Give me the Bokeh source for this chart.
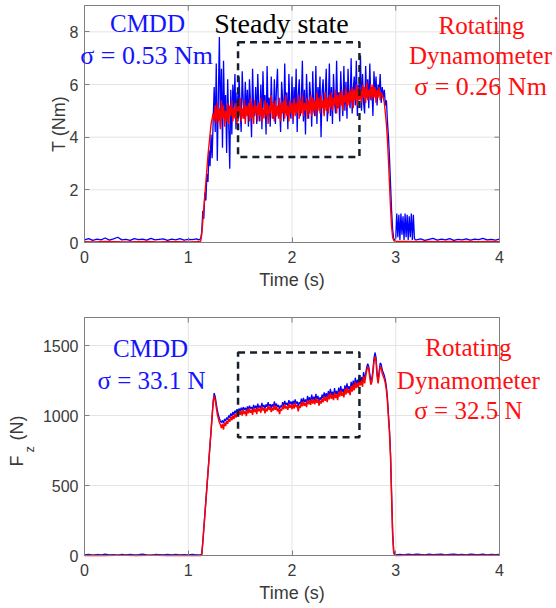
import numpy as np
from bokeh.plotting import figure
from bokeh.layouts import column
from bokeh.models import Label, FixedTicker, Range1d
from bokeh.embed import file_html
from bokeh.resources import INLINE

# ---------------- data ----------------
X_TICKS = [0, 1, 2, 3, 4]
T_TICKS = [0, 2, 4, 6, 8]
F_TICKS = [0, 500, 1000, 1500]
X_LIM = [0, 4]
T_LIM = [0, 9]
F_LIM = [0, 1700]

STEADY_T = [1.48, 2.65]          # time window of the steady state box
STEADY_TORQUE = [3.25, 7.6]      # box extent in torque plot
STEADY_FZ = [845, 1450]          # box extent in force plot

# Torque, CMDD (blue)
T_CMDD_PRE = [0.1, 0.15, 0.08, 0.13, 0.1, 0.17, 0.09, 0.14, 0.2, 0.1, 0.12, 0.08, 0.15, 0.11,
              0.13, 0.09, 0.16, 0.1, 0.12, 0.14, 0.08, 0.13, 0.1, 0.15, 0.09, 0.12, 0.11, 0.14]
T_CMDD_RUN = [0.1, 0.12, 0.15, 0.4, 1.2, 0.9, 1.9, 1.6, 2.6, 2.3,
              3.5, 2.9, 4.1, 3.2, 4.6, 5.9, 4.2, 6.8, 3.1, 5.5,
              7.8, 4.4, 6.6, 3.6, 6.9, 4.8, 5.6, 3.4, 6.2, 4.5,
              2.8, 5.8, 4.1, 6.0, 5.0, 6.4, 4.3, 5.7, 4.6, 6.3,
              5.1, 4.2, 6.5, 5.4, 4.7, 6.1, 4.9, 5.8, 4.4, 6.2,
              5.3, 4.0, 6.6, 5.0, 4.8, 5.9, 4.5, 6.4, 5.2, 4.6,
              6.0, 4.3, 6.5, 5.1, 5.6, 4.1, 6.7, 4.9, 5.5, 4.4,
              6.3, 5.0, 4.7, 6.2, 4.5, 5.8, 6.6, 4.8, 5.3, 4.2,
              6.1, 5.4, 4.6, 6.8, 4.9, 5.7, 4.3, 6.4, 5.1, 4.7,
              6.3, 4.5, 5.9, 5.0, 6.6, 4.2, 5.6, 6.2, 4.8, 5.4,
              6.9, 4.6, 5.8, 4.1, 6.4, 5.2, 4.7, 6.1, 5.5, 4.4,
              6.5, 5.0, 4.8, 6.7, 4.5, 5.9, 5.3, 6.3, 4.0, 5.7,
              6.2, 4.9, 5.6, 6.6, 4.6, 5.2, 6.8, 4.8, 5.9, 4.5,
              6.4, 5.3, 4.9, 6.9, 5.1, 5.7, 4.6, 6.5, 5.4, 4.8,
              6.7, 5.0, 6.1, 4.7, 6.6, 5.5, 5.1, 7.0, 4.9, 5.8,
              6.3, 5.2, 6.9, 4.8, 6.0, 5.6, 7.1, 5.0, 6.4, 5.3,
              4.9, 6.7, 5.5, 6.2, 5.1, 6.8, 5.4, 5.9, 4.8, 6.5,
              5.6, 6.3, 5.2, 6.0, 5.7, 6.4, 5.3, 5.9, 5.5, 5.8,
              5.2, 5.4, 4.6, 4.0, 3.2, 2.2, 1.2, 0.5, 0.15, 0.1,
              0.15]
T_CMDD_TAIL = [1.1, 0.2, 1.05, 0.1, 1.1, 0.3, 1.0, 0.1, 1.1, 0.2, 1.05, 0.1, 1.0, 0.2, 1.1, 0.1, 1.05, 0.15, 0.1]
T_CMDD_POST = [0.1, 0.14, 0.08, 0.12, 0.16, 0.09, 0.13, 0.1, 0.15, 0.08, 0.12, 0.1, 0.14, 0.09,
               0.13, 0.11, 0.16, 0.1, 0.12, 0.09, 0.13]

# Torque, rotating dynamometer (red)
T_ROT_PRE = [0.03, 0.02, 0.04, 0.03, 0.02, 0.03, 0.04, 0.02, 0.03, 0.03, 0.02]
T_ROT_RUN = [0.03, 0.03, 0.05, 0.3, 0.8, 1.3, 1.8, 2.3, 2.8, 3.3, 3.7, 4.1, 4.5, 4.7, 4.9, 4.6, 5.2,
             4.5, 5.3, 4.6, 5.1, 4.3, 5.4, 4.7, 5.2, 4.4, 5.0,
             4.6, 5.3, 4.5, 5.2, 4.8, 5.4, 4.6, 5.1, 4.7, 5.3,
             4.5, 5.2, 4.8, 5.5, 4.6, 5.1, 4.7, 5.4, 4.5, 5.2,
             4.8, 5.3, 4.6, 5.5, 4.7, 5.2, 4.5, 5.4, 4.9, 5.2,
             4.6, 5.3, 4.8, 5.5, 4.6, 5.1, 4.7, 5.4, 4.8, 5.3,
             4.5, 5.2, 4.9, 5.6, 4.7, 5.3, 4.6, 5.4, 4.8, 5.2,
             4.7, 5.5, 4.6, 5.3, 4.9, 5.4, 4.7, 5.6, 4.8, 5.2,
             4.6, 5.4, 4.9, 5.3, 4.7, 5.5, 4.8, 5.3, 4.9, 5.6,
             4.7, 5.4, 4.9, 5.6, 4.8, 5.3, 5.0, 5.5, 4.7, 5.4,
             4.9, 5.6, 4.8, 5.5, 5.0, 5.4, 4.8, 5.7, 5.0, 5.5,
             4.9, 5.6, 5.1, 5.4, 4.8, 5.7, 5.0, 5.5, 4.9, 5.6,
             5.1, 5.7, 5.0, 5.5, 5.2, 5.8, 4.9, 5.6, 5.1, 5.7,
             5.2, 5.8, 5.0, 5.6, 5.3, 5.9, 5.1, 5.7, 5.2, 5.8,
             5.3, 5.9, 5.1, 5.8, 5.4, 6.0, 5.2, 5.9, 5.4, 5.8,
             5.3, 6.0, 5.5, 5.9, 5.3, 6.1, 5.4, 5.8, 5.5, 6.0,
             5.4, 6.0, 5.5, 5.9, 5.3, 5.8, 5.5, 5.9, 5.4, 5.7,
             5.6, 5.5,
             5.3, 4.9, 4.5, 3.9, 3.1, 2.2, 1.3, 0.6, 0.2, 0.08, 0.05, 0.04]
T_ROT_POST = [0.04, 0.03, 0.04, 0.03, 0.04, 0.03, 0.04, 0.03, 0.04, 0.03]

# Fz, CMDD (blue)
F_CMDD_PRE = [5, 8, 3, 7, 4, 9, 5, 6, 3, 8, 5, 7, 4, 6, 9, 5, 3, 7, 6, 4, 8, 5, 7, 4, 6, 5, 8, 4]
F_CMDD_RUN = [5, 3, 6, 8, 92, 192, 292, 392, 492, 592, 692, 792, 892, 995, 1100, 1160, 1135, 1085, 1040, 1005,
              980, 960, 950, 965, 945, 975, 960, 985, 970, 1000, 985, 1015, 995, 1025, 1005, 1035, 1015, 1045,
              1025, 1050, 1030,
              1055, 1035, 1060, 1040, 1055, 1030, 1065, 1045, 1070, 1050,
              1060, 1040, 1075, 1050, 1070, 1045, 1085, 1055, 1070, 1050,
              1090, 1060, 1075, 1050, 1080, 1060, 1095, 1065, 1080, 1055,
              1080, 1060, 1100, 1065, 1085, 1060, 1075, 1045, 1070, 1060,
              1095, 1070, 1105, 1075, 1090, 1070, 1110, 1080, 1100, 1075,
              1105, 1080, 1115, 1085, 1100, 1065, 1095, 1080, 1120, 1090,
              1125, 1095, 1115, 1090, 1140, 1105, 1130, 1100, 1150, 1110,
              1135, 1105, 1155, 1115, 1140, 1100, 1130, 1110, 1150, 1120,
              1165, 1130, 1160, 1125, 1175, 1140, 1190, 1145, 1170, 1135,
              1195, 1150, 1175, 1140, 1200, 1160, 1210, 1165, 1190, 1160,
              1215, 1175, 1230, 1185, 1210, 1175, 1240, 1195, 1250, 1205,
              1270, 1220, 1255, 1230, 1290, 1240, 1275, 1235, 1310, 1260,
              1300, 1345, 1370, 1350, 1295, 1250, 1265, 1325, 1410, 1450,
              1415, 1305, 1255, 1315, 1375, 1365, 1325, 1305, 1285, 1255,
              1205, 1125, 1005, 895, 720, 440, 170, 35, 8, 5]
F_CMDD_POST = [8, 5, 9, 6, 10, 7, 5, 9, 6, 8, 10, 5, 7, 9, 6, 8, 5, 10, 7, 6, 9, 5, 8, 6, 7]

# Fz, rotating dynamometer (red)
F_ROT_PRE = [0, 1, 0, 2, 1, 0, 1, 2, 0, 1, 0]
F_ROT_RUN = [0, 0, 0, 5, 90, 190, 290, 390, 490, 590, 690, 790, 890, 990, 1090, 1140, 1110, 1060, 1010, 980,
             950, 935, 910, 940, 900, 950, 925, 960, 940, 975, 955, 990, 965, 1000, 975, 1010, 985, 1020,
             995, 1030, 1005,
             1035, 1000, 1040, 1010, 1030, 995, 1045, 1015, 1050, 1020,
             1040, 1005, 1055, 1025, 1045, 1010, 1060, 1030, 1050, 1020,
             1065, 1035, 1055, 1015, 1050, 1030, 1070, 1040, 1060, 1025,
             1055, 1035, 1075, 1040, 1065, 1030, 1050, 1010, 1045, 1035,
             1070, 1045, 1080, 1050, 1065, 1040, 1085, 1055, 1075, 1045,
             1080, 1050, 1090, 1060, 1075, 1030, 1070, 1055, 1095, 1065,
             1100, 1070, 1090, 1060, 1110, 1080, 1105, 1075, 1120, 1085,
             1110, 1080, 1125, 1090, 1115, 1070, 1105, 1085, 1120, 1095,
             1140, 1105, 1130, 1095, 1150, 1115, 1160, 1120, 1145, 1110,
             1165, 1125, 1150, 1110, 1170, 1135, 1180, 1140, 1165, 1130,
             1190, 1150, 1200, 1160, 1185, 1145, 1210, 1170, 1220, 1180,
             1240, 1195, 1230, 1200, 1260, 1215, 1250, 1205, 1280, 1230,
             1280, 1320, 1350, 1330, 1270, 1220, 1240, 1300, 1380, 1420,
             1390, 1280, 1230, 1290, 1350, 1340, 1300, 1280, 1260, 1230,
             1180, 1100, 980, 870, 700, 420, 150, 20, 3, 0]
F_ROT_POST = [2, 1, 2, 1, 2, 1, 2, 1, 2, 1]

BLUE = "#0000ff"
RED = "#ff0000"
TXT_BLUE = "#1414ff"
TXT_RED = "#ff1010"
GRAY = "#808080"
GRID = "#e4e4e4"
TICK_TXT = "#3a3a3a"

W = 556
PX_LEFT, PX_RIGHT = 84, 499     # pixel columns of t=0 and t=4


def series(*segments):
    ts, vs = [], []
    for t0, dt, vals in segments:
        ts.append(t0 + dt * np.arange(len(vals)))
        vs.append(np.asarray(vals, dtype=float))
    return np.concatenate(ts), np.concatenate(vs)


tq_c = series((0.0, 0.04, T_CMDD_PRE), (1.10, 0.01, T_CMDD_RUN), (3.01, 0.01, T_CMDD_TAIL), (3.20, 0.04, T_CMDD_POST))
tq_r = series((0.0, 0.1, T_ROT_PRE), (1.10, 0.01, T_ROT_RUN), (3.10, 0.1, T_ROT_POST))
fz_c = series((0.0, 0.04, F_CMDD_PRE), (1.10, 0.01, F_CMDD_RUN), (3.04, 0.04, F_CMDD_POST))
fz_r = series((0.0, 0.1, F_ROT_PRE), (1.10, 0.01, F_ROT_RUN), (3.10, 0.1, F_ROT_POST))


def make_fig(height, px_top, px_bottom, ylim, yticks, ylabel):
    """Frame covers the whole canvas so texts beyond the axes box are not clipped;
    the axes are pinned at t=0 / y=0 with their own ticks and labels."""
    sx = (PX_RIGHT - PX_LEFT) / (X_LIM[1] - X_LIM[0])
    sy = (px_bottom - px_top) / (ylim[1] - ylim[0])
    xr = Range1d(X_LIM[0] - PX_LEFT / sx, X_LIM[1] + (W - PX_RIGHT) / sx)
    yr = Range1d(ylim[0] - (height - px_bottom) / sy, ylim[1] + px_top / sy)
    p = figure(width=W, height=height, output_backend="svg", toolbar_location=None,
               x_range=xr, y_range=yr, min_border=0,
               min_border_left=0, min_border_right=0, min_border_top=0, min_border_bottom=0)
    p.outline_line_color = None
    p.grid.visible = False
    p.xaxis.fixed_location = ylim[0]
    p.yaxis.fixed_location = X_LIM[0]
    p.xaxis.bounds = tuple(X_LIM)
    p.yaxis.bounds = tuple(ylim)
    p.xaxis.ticker = FixedTicker(ticks=X_TICKS)
    p.yaxis.ticker = FixedTicker(ticks=yticks)
    for ax in p.axis:
        ax.axis_line_color = GRAY
        ax.major_tick_line_color = GRAY
        ax.major_tick_in = 5
        ax.major_tick_out = 0
        ax.minor_tick_line_color = None
        ax.major_label_text_font = "Liberation Sans"
        ax.major_label_text_font_size = "16px"
        ax.major_label_text_color = TICK_TXT
        ax.axis_label_text_font = "Liberation Sans"
        ax.axis_label_text_font_size = "18px"
        ax.axis_label_text_font_style = "normal"
        ax.axis_label_text_color = TICK_TXT
    p.xaxis.axis_label = "Time (s)"
    p.xaxis.major_label_standoff = 8
    p.xaxis.axis_label_standoff = 4
    p.yaxis.major_label_standoff = 6
    p.yaxis.axis_label_standoff = -2
    if ylabel:
        p.yaxis.axis_label = ylabel
    # grid lines inside the axes box
    p.segment(x0=X_TICKS, x1=X_TICKS, y0=ylim[0], y1=ylim[1], line_color=GRID, line_width=1)
    p.segment(x0=X_LIM[0], x1=X_LIM[1], y0=yticks, y1=yticks, line_color=GRID, line_width=1)
    return p, sx, sy


def finish(p, sx, sy, ylim, yticks):
    # box and mirrored ticks on top / right
    p.quad(left=X_LIM[0], right=X_LIM[1], bottom=ylim[0], top=ylim[1],
           fill_color=None, line_color=GRAY, line_width=1)
    p.segment(x0=X_LIM[1], x1=X_LIM[1] - 5 / sx, y0=yticks, y1=yticks, line_color=GRAY)
    p.segment(x0=X_TICKS, x1=X_TICKS, y0=ylim[1], y1=ylim[1] - 5 / sy, line_color=GRAY)


def txt(p, x, y, s, color, size="25px"):
    p.add_layout(Label(x=x, y=y, text=s, text_font="Liberation Serif", text_font_size=size,
                       text_color=color, text_align="center", text_baseline="middle"))


# ---------------- Torque ----------------
p1, sx1, sy1 = make_fig(296, 5, 242, T_LIM, T_TICKS, "T (Nm)")
p1.line(tq_c[0], tq_c[1], line_color=BLUE, line_width=1.3)
p1.line(tq_r[0], tq_r[1], line_color=RED, line_width=1.4)
p1.quad(left=STEADY_T[0], right=STEADY_T[1], bottom=STEADY_TORQUE[0], top=STEADY_TORQUE[1],
        fill_color=None, line_color="#17202a", line_width=2.5, line_dash="7 5")
finish(p1, sx1, sy1, T_LIM, T_TICKS)
txt(p1, 0.607, 8.32, "CMDD", TXT_BLUE)
txt(p1, 0.598, 7.10, "σ = 0.53 Nm", TXT_BLUE, "26px")
txt(p1, 1.899, 8.32, "Steady state", "#000000", "28px")
txt(p1, 3.827, 8.24, "Rotating", TXT_RED)
txt(p1, 3.817, 7.10, "Dynamometer", TXT_RED)
txt(p1, 3.817, 5.92, "σ = 0.26 Nm", TXT_RED, "26px")

# ---------------- Fz ----------------
p2, sx2, sy2 = make_fig(312, 21, 259, F_LIM, F_TICKS, None)
p2.line(fz_c[0], fz_c[1], line_color=BLUE, line_width=1.3)
p2.line(fz_r[0], fz_r[1], line_color=RED, line_width=1.5)
p2.quad(left=STEADY_T[0], right=STEADY_T[1], bottom=STEADY_FZ[0], top=STEADY_FZ[1],
        fill_color=None, line_color="#17202a", line_width=2.5, line_dash="7 5")
finish(p2, sx2, sy2, F_LIM, F_TICKS)
txt(p2, 0.636, 1479, "CMDD", TXT_BLUE)
txt(p2, 0.646, 1250, "σ = 33.1 N", TXT_BLUE)
txt(p2, 3.70, 1486, "Rotating", TXT_RED)
txt(p2, 3.70, 1250, "Dynamometer", TXT_RED)
txt(p2, 3.70, 1036, "σ = 32.5 N", TXT_RED)

# y-axis label F_z (N), rotated, with subscript z
for x, y, s, size in [(-0.646, 636, "F", "18px"), (-0.530, 736, "z", "13px"), (-0.646, 821, "(N)", "18px")]:
    p2.add_layout(Label(x=x, y=y, text=s, angle=np.pi / 2, text_font="Liberation Sans", text_font_size=size,
                        text_color=TICK_TXT, text_align="left", text_baseline="middle"))

layout = column(p1, p2, spacing=0)
open("out.html", "w").write(file_html(layout, INLINE))
